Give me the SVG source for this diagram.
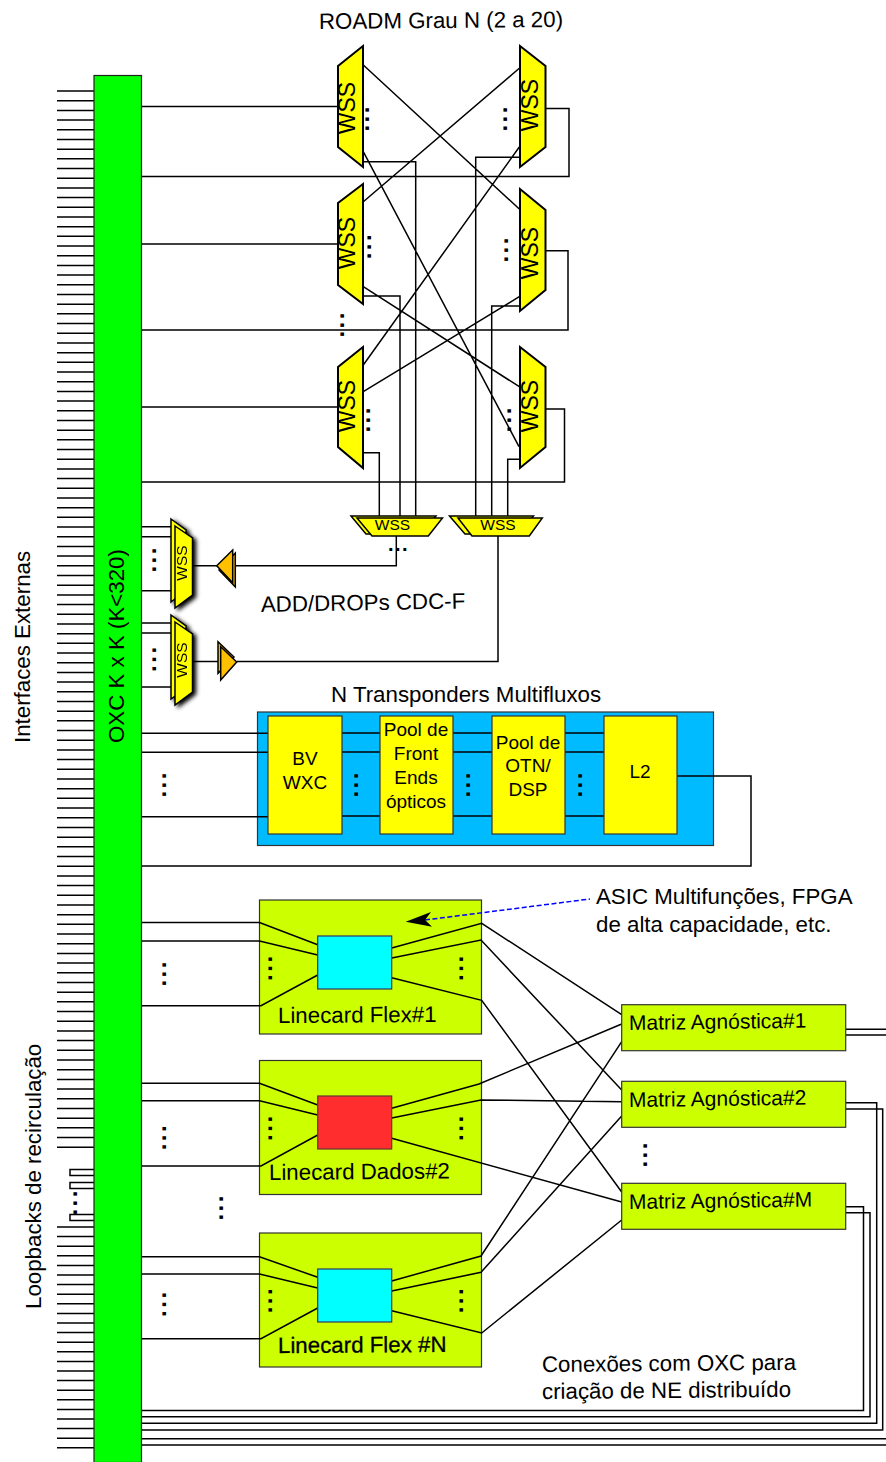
<svg xmlns="http://www.w3.org/2000/svg" width="886" height="1462" viewBox="0 0 886 1462">
<defs>
<style>
text{font-family:"Liberation Sans",Arial,sans-serif;fill:#000}
.t{font-size:22.3px}
.c{text-anchor:middle}
.m{font-size:21px}
.lc{font-size:22.3px}
.p{font-size:19px;text-anchor:middle}
.dots{font-size:24px;letter-spacing:2.5px;font-weight:bold}
.dh{font-size:20px;letter-spacing:1.5px;font-weight:bold}
.wss{fill:#ffff00;stroke:#000;stroke-width:2;stroke-linejoin:miter}
.sw{fill:#ffff00;stroke:#000;stroke-width:1.5}
.or{fill:#ffc000;stroke:#000;stroke-width:1.5}
.box{fill:#ffff00;stroke:#333;stroke-width:1.2}
.lin{fill:#ccff00;stroke:#333;stroke-width:1.2}
.w1{font-size:23px;text-anchor:middle}
.w2{font-size:15.5px;text-anchor:middle}
.ln{fill:none;stroke:#000;stroke-width:1.5}
</style>
<filter id="sh" x="-30%" y="-10%" width="170%" height="120%"><feGaussianBlur in="SourceAlpha" stdDeviation="2"/><feOffset dx="3" dy="2"/><feMerge><feMergeNode/><feMergeNode in="SourceGraphic"/></feMerge></filter>
</defs>
<g id="containers">
<rect id="transponders-box" x="257.5" y="712" width="456" height="133.5" fill="#00bbff" stroke="#333" stroke-width="1.2"/>
<rect id="linecard1-box" class="lin" x="259.5" y="900" width="222" height="134"/>
<rect id="linecard2-box" class="lin" x="259.5" y="1060.5" width="222" height="134"/>
<rect id="linecardN-box" class="lin" x="259.5" y="1233" width="222" height="134"/>
</g>
<g id="connectors">
<path class="ln" id="stubs-top" d="M57 91h37m-37 9.69h37m-37 9.69h37m-37 9.69h37m-37 9.69h37m-37 9.69h37m-37 9.69h37m-37 9.69h37m-37 9.69h37m-37 9.69h37
m-37 9.69h37m-37 9.69h37m-37 9.69h37m-37 9.69h37m-37 9.69h37m-37 9.69h37m-37 9.69h37m-37 9.69h37m-37 9.69h37m-37 9.69h37
m-37 9.69h37m-37 9.69h37m-37 9.69h37m-37 9.69h37m-37 9.69h37m-37 9.69h37m-37 9.69h37m-37 9.69h37m-37 9.69h37m-37 9.69h37
m-37 9.69h37m-37 9.69h37m-37 9.69h37m-37 9.69h37m-37 9.69h37m-37 9.69h37m-37 9.69h37m-37 9.69h37m-37 9.69h37m-37 9.69h37
m-37 9.69h37m-37 9.69h37m-37 9.69h37m-37 9.69h37m-37 9.69h37m-37 9.69h37m-37 9.69h37m-37 9.69h37m-37 9.69h37m-37 9.69h37
m-37 9.69h37m-37 9.69h37m-37 9.69h37m-37 9.69h37m-37 9.69h37m-37 9.69h37m-37 9.69h37m-37 9.69h37m-37 9.69h37m-37 9.69h37
m-37 9.69h37m-37 9.69h37m-37 9.69h37m-37 9.69h37m-37 9.69h37m-37 9.69h37m-37 9.69h37m-37 9.69h37m-37 9.69h37m-37 9.69h37
m-37 9.69h37m-37 9.69h37m-37 9.69h37m-37 9.69h37m-37 9.69h37m-37 9.69h37m-37 9.69h37m-37 9.69h37m-37 9.69h37m-37 9.69h37
m-37 9.69h37m-37 9.69h37m-37 9.69h37m-37 9.69h37m-37 9.69h37m-37 9.69h37m-37 9.69h37m-37 9.69h37m-37 9.69h37m-37 9.69h37
m-37 9.69h37m-37 9.69h37m-37 9.69h37m-37 9.69h37m-37 9.69h37m-37 9.69h37m-37 9.69h37m-37 9.69h37m-37 9.69h37m-37 9.69h37
m-37 9.69h37m-37 9.69h37m-37 9.69h37m-37 9.69h37m-37 9.69h37m-37 9.69h37m-37 9.69h37m-37 9.69h37m-37 9.69h37m-37 9.69h37
"/>
<path class="ln" id="stubs-bottom" d="M57 1227h37m-37 9.6h37m-37 9.6h37m-37 9.6h37m-37 9.6h37m-37 9.6h37m-37 9.6h37m-37 9.6h37m-37 9.6h37m-37 9.6h37
m-37 9.6h37m-37 9.6h37m-37 9.6h37m-37 9.6h37m-37 9.6h37m-37 9.6h37m-37 9.6h37m-37 9.6h37m-37 9.6h37m-37 9.6h37
m-37 9.6h37m-37 9.6h37m-37 9.6h37m-37 9.6h37"/>
<path class="ln" id="loopbacks" d="M94 1169.5h-24v6h24M94 1182.5h-24v6h24M94 1214.5h-24v6h24"/>
<path class="ln" id="roadm-links" d="M141 106.5H338M141 244H338M141 407H338
M141 176.5H569V108.5H545M141 330H568V250.7H545M141 482H564.5V409H545
M363.3 65L519.3 209M519.3 68.3L363.3 201.7M363.3 151.7L519 446.7M519.3 147L363.3 365M363.3 286.7L519.3 386.7M519.3 296.7L363.3 391.7
M363 161.7H415.7V517M363 296H400V517M363 452.7H379.3V517
M520 157.3H475.7V517M520 306H491.7V517M520 459.3H507.7V517"/>
<path class="ln" id="add-drop-links" d="M396.3 536V565.7H235M498 535V661.5H237M192.5 565.7H217M192.5 661.5H220
M141 526.7H171M141 536.7H171M141 590.7H171M141 623H171M141 633H171M141 687H171"/>
<path class="ln" id="transponder-links" d="M141 733.3H268M141 752.3H268M141 816.7H268
M342 733H380M342 752H380M342 816H380M453 733H492M453 752H492M453 816H492M565 733H604M565 752H604M565 816H604
M677 776H751V866H141"/>
<path class="ln" id="linecard-links" d="M141 922.5H259.5L317.7 944.7M141 941H259.5L317.7 955M141 1005.7H261L317.7 975
M391.7 948L481.7 923.3L621.7 1014.7M391.7 958L481 940L621.7 1090M391.7 977.7L481.7 1000.3L621.7 1192
M141 1083.3H259.5L317.7 1105M141 1100.7H259.5L317.7 1115M141 1166H261L317.7 1135
M391.7 1108.3L479 1084L621.7 1024M391.7 1118L481 1100L621.7 1101.7M391.7 1138.3L621.7 1202
M141 1256.7H259.5L317.7 1277.3M141 1274H259.5L317.7 1288M141 1338.7H261L317.7 1308
M391.7 1281L481 1256L621.7 1041.7M391.7 1291L481 1272.3L621.7 1116M391.7 1310.7L481.7 1333L621.7 1220"/>
<path class="ln" id="oxc-returns" d="M846 1029.3H886M846 1035H886M141 1438.7H886M141 1445H886
M846 1102.7H876.7V1423.3H141M846 1109H882.7V1430H141M846 1206.7H863.5V1410.5H141M846 1212.7H870V1416.7H141"/>
<path id="asic-arrow-line" d="M425 920L590 899" fill="none" stroke="#0000ff" stroke-width="1.5" stroke-dasharray="5 2.5"/>
<polygon id="asic-arrow-head" points="405.7,921.7 431,912 425,920 432,926.7" fill="#000"/>
</g>
<g id="oxc"><rect x="94" y="75.5" width="47.5" height="1387" fill="#00ff00" stroke="#222" stroke-width="1.2"/>
<text class="t" transform="translate(124,743) rotate(-90)">OXC K x K (K&lt;320)</text></g>
<g id="wss-l1"><polygon class="wss" points="363,46 338,66 338,147 363,167"/><text class="w1" transform="translate(355,108) rotate(-90)">WSS</text></g>
<g id="wss-l2"><polygon class="wss" points="363,184 338,203 338,285 363,304"/><text class="w1" transform="translate(355,243) rotate(-90)">WSS</text></g>
<g id="wss-l3"><polygon class="wss" points="363,347 338,367 338,447 363,468"/><text class="w1" transform="translate(355,406) rotate(-90)">WSS</text></g>
<g id="wss-r1"><polygon class="wss" points="520,46 545.5,66 545.5,147 520,167"/><text class="w1" transform="translate(537.5,105) rotate(-90)">WSS</text></g>
<g id="wss-r2"><polygon class="wss" points="520,189 545.5,210 545.5,290 520,311"/><text class="w1" transform="translate(537.5,253) rotate(-90)">WSS</text></g>
<g id="wss-r3"><polygon class="wss" points="520,347 545.5,367 545.5,447 520,468"/><text class="w1" transform="translate(537.5,406) rotate(-90)">WSS</text></g>
<g id="wss-add-1"><polygon class="sw" points="351,516 436,516 422,534 366,534"/><polygon class="sw" points="357,518 442.5,518 428.3,536 372,536"/><text class="w2" x="392.5" y="530">WSS</text></g>
<g id="wss-add-2"><polygon class="sw" points="449.5,516 533.5,516 520,534 465,534"/><polygon class="sw" points="458,518 542.3,518 529.3,536 472,536"/><text class="w2" x="498" y="530">WSS</text></g>
<g id="wss-s1" filter="url(#sh)"><polygon class="sw" points="171,519 186,530 186,590 171,602"/><polygon class="sw" points="175,526 192.5,538 192.5,595 175,608"/><text class="w2" transform="translate(186.5,563) rotate(-90)">WSS</text></g>
<g id="wss-s2" filter="url(#sh)"><polygon class="sw" points="171,615 186,626 186,688 171,699"/><polygon class="sw" points="175,622 192.5,634 192.5,692 175,705"/><text class="w2" transform="translate(186.5,660) rotate(-90)">WSS</text></g>
<g id="amp-1"><polygon class="or" points="219,570 235.3,553 235.3,587"/><polygon class="or" points="216.7,565.7 232.7,550 232.7,582.7"/></g>
<g id="amp-2"><polygon class="or" points="234,657 218,641.7 218,673.3"/><polygon class="or" points="236.7,662 220.7,646.7 220.7,680"/></g>
<g id="bv-wxc"><rect class="box" x="268" y="716" width="74" height="118"/><text class="p" x="305" y="765">BV</text><text class="p" x="305" y="789">WXC</text></g>
<g id="pool-front"><rect class="box" x="380" y="716" width="73" height="118"/><text class="p" x="416" y="736">Pool de</text><text class="p" x="416" y="760">Front</text><text class="p" x="416" y="784">Ends</text><text class="p" x="416" y="808">ópticos</text></g>
<g id="pool-otn"><rect class="box" x="492" y="716" width="73" height="118"/><text class="p" x="528" y="749">Pool de</text><text class="p" x="528" y="772">OTN/</text><text class="p" x="528" y="796">DSP</text></g>
<g id="l2"><rect class="box" x="604" y="716" width="73" height="118"/><text class="p" x="640" y="778">L2</text></g>
<g id="asic-1"><rect x="317.7" y="936" width="74" height="53" fill="#00ffff" stroke="#336" stroke-width="1.2"/><text class="lc" transform="translate(278,1023) rotate(-0.4)">Linecard Flex#1</text></g>
<g id="asic-2"><rect x="317.7" y="1096" width="74" height="53" fill="#ff2d2d" stroke="#633" stroke-width="1.2"/><text class="lc" transform="translate(269,1180) rotate(-0.5)">Linecard Dados#2</text></g>
<g id="asic-N"><rect x="317.7" y="1269" width="74" height="53" fill="#00ffff" stroke="#336" stroke-width="1.2"/><text class="lc" transform="translate(278,1353) rotate(-0.4)" stroke="#000" stroke-width="0.3">Linecard Flex #N</text></g>
<g id="matriz-1"><rect class="lin" x="621.7" y="1004.7" width="224" height="46"/><text class="m" transform="translate(629,1030) rotate(-0.75)">Matriz Agnóstica#1</text></g>
<g id="matriz-2"><rect class="lin" x="621.7" y="1081.3" width="224" height="46"/><text class="m" transform="translate(629,1107) rotate(-0.75)">Matriz Agnóstica#2</text></g>
<g id="matriz-M"><rect class="lin" x="621.7" y="1183.3" width="224" height="46"/><text class="m" transform="translate(629,1209) rotate(-0.75)">Matriz Agnóstica#M</text></g>
<g id="labels">
<text class="t" transform="translate(319,29) rotate(-0.5)">ROADM Grau N (2 a 20)</text>
<text class="t" transform="translate(261,612) rotate(-1)">ADD/DROPs CDC-F</text>
<text class="t" x="331" y="702">N Transponders Multifluxos</text>
<text class="t" transform="translate(30,743) rotate(-90)">Interfaces Externas</text>
<text class="t" transform="translate(41,1309) rotate(-90)">Loopbacks de recirculação</text>
<text class="t" x="596" y="904">ASIC Multifunções, FPGA</text>
<text class="t" x="596" y="932">de alta capacidade, etc.</text>
<text class="t" transform="translate(542,1372) rotate(-0.5)">Conexões com OXC para</text>
<text class="t" transform="translate(542,1399) rotate(-0.5)">criação de NE distribuído</text>
</g>
<g id="ellipses">
<text class="dots" transform="translate(369.2,131.6) rotate(-90)">...</text>
<text class="dots" transform="translate(506.8,131.6) rotate(-90)">...</text>
<text class="dots" transform="translate(370.8,259.3) rotate(-90)">...</text>
<text class="dots" transform="translate(508.2,262.6) rotate(-90)">...</text>
<text class="dots" transform="translate(369.8,432.6) rotate(-90)">...</text>
<text class="dots" transform="translate(510.8,432.6) rotate(-90)">...</text>
<text class="dots" transform="translate(343.8,337.6) rotate(-90)">...</text>
<text class="dots" transform="translate(155.5,572.6) rotate(-90)">...</text>
<text class="dots" transform="translate(155.5,671.9) rotate(-90)">...</text>
<text class="dots" transform="translate(165.5,797.6) rotate(-90)">...</text>
<text class="dots" transform="translate(357.5,797.6) rotate(-90)">...</text>
<text class="dots" transform="translate(469.5,797.6) rotate(-90)">...</text>
<text class="dots" transform="translate(581.5,797.6) rotate(-90)">...</text>
<text class="dots" transform="translate(271.5,980.9) rotate(-90)">...</text>
<text class="dots" transform="translate(463.2,980.9) rotate(-90)">...</text>
<text class="dots" transform="translate(165.5,986.6) rotate(-90)">...</text>
<text class="dots" transform="translate(271.5,1140.9) rotate(-90)">...</text>
<text class="dots" transform="translate(463.2,1140.9) rotate(-90)">...</text>
<text class="dots" transform="translate(165.5,1150.3) rotate(-90)">...</text>
<text class="dots" transform="translate(271.5,1313.3) rotate(-90)">...</text>
<text class="dots" transform="translate(463.2,1313.3) rotate(-90)">...</text>
<text class="dots" transform="translate(165.5,1316.9) rotate(-90)">...</text>
<text class="dots" transform="translate(223.2,1220.6) rotate(-90)">...</text>
<text class="dots" transform="translate(647.2,1167.6) rotate(-90)">...</text>
<text class="dots" transform="translate(76.5,1215.6) rotate(-90)">...</text>
<text class="dh" x="388" y="551">...</text>
</g>
</svg>
